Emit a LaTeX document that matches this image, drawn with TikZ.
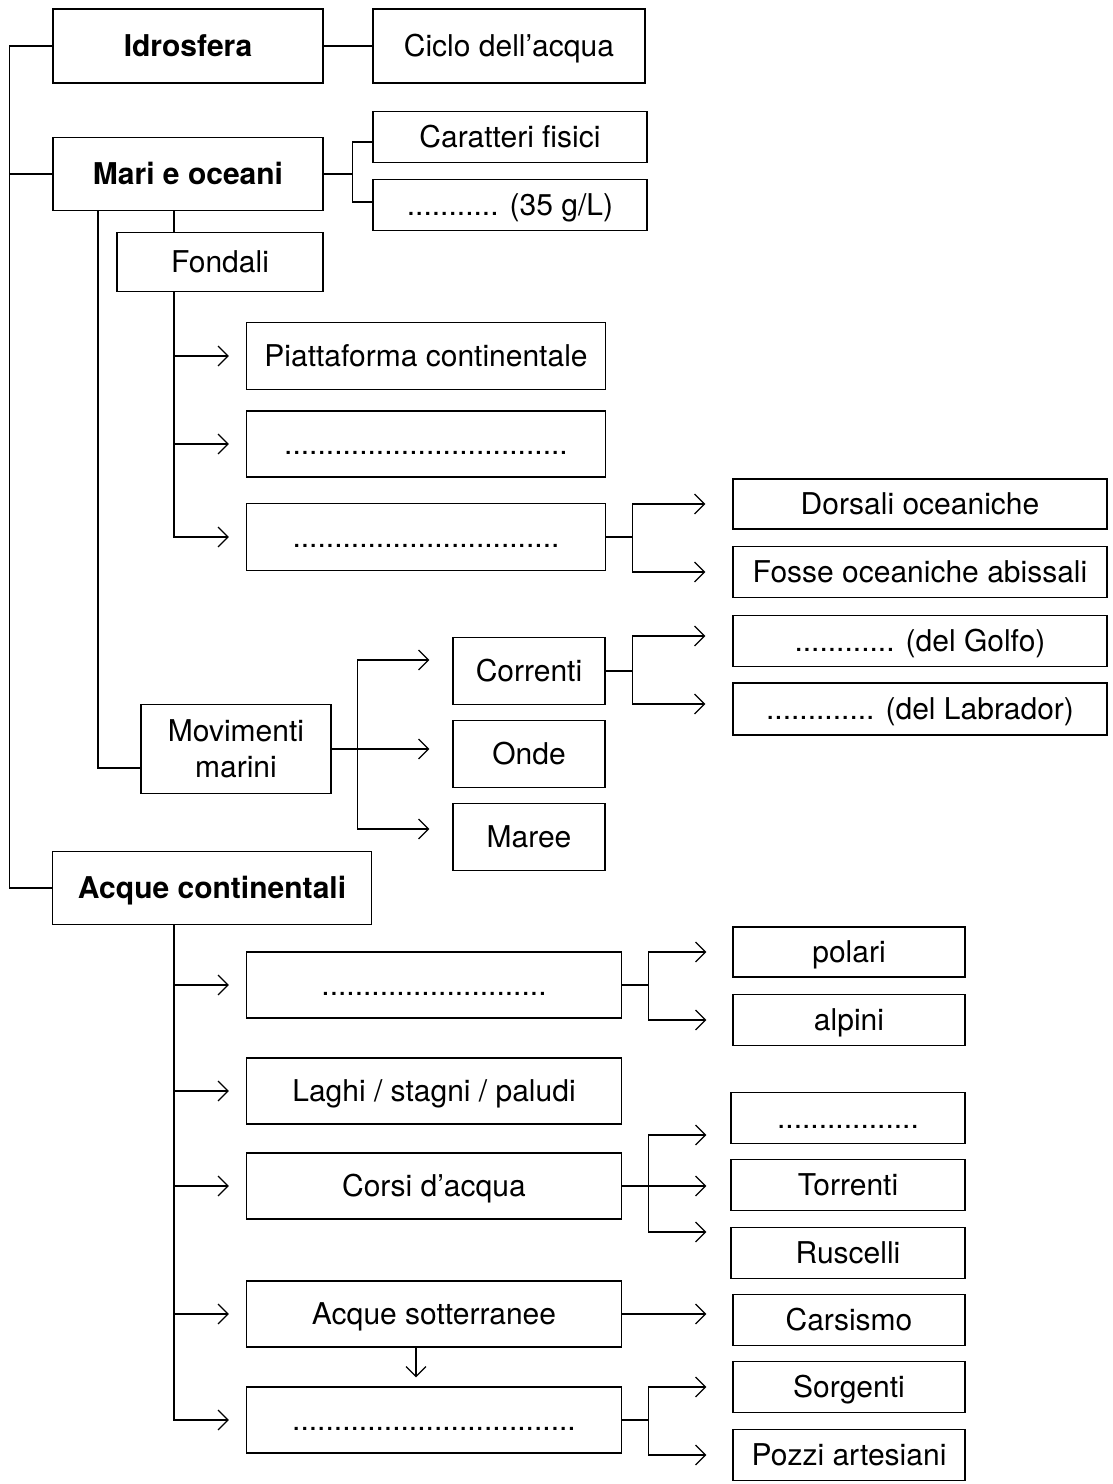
\documentclass[tikz,border=0pt]{standalone}
\usepackage{fontspec}
\setmainfont{TeX Gyre Heros}
\usepackage{tikz}
\usetikzlibrary{positioning,arrows.meta}

\tikzset{
  cell/.style={draw,inner sep=0pt,align=center,font=\fontsize{30}{36}\selectfont},
  box/.style 2 args={cell,minimum width=#1pt,minimum height=#2pt,text height=24pt,text depth=3pt},
  head/.style 2 args={box={#1}{#2},font=\fontsize{30}{36}\selectfont\bfseries},
}

\begin{document}
\begin{tikzpicture}[x=1pt,y=-1pt,line width=1.2pt,>={Straight Barb[length=10pt,width=20pt]}]
\useasboundingbox (0,0) rectangle (1113,1484);

% idrosfera e mari
\node[head={270}{74}] (idro) at (188,46) {Idrosfera};
\node[box={272}{74}] (ciclo) at (509,46) {Ciclo dell’acqua};
\node[head={270}{73}] (mari) at (188,174) {Mari e oceani};
\node[box={274}{51}] (carat) at (510,137) {Caratteri fisici};
\node[box={274}{51}] (sale) at (510,205) {........... (35 g/L)};
\node[box={206}{59}] (fond) at (220,262) {Fondali};
\node[box={359}{67}] (piatt) at (426,356) {Piattaforma continentale};
\node[box={359}{66}] (scarp) at (426,444) {..................................};
\node[box={359}{67}] (pian) at (426,537) {................................};
\node[box={374}{50}] (dors) at (920,504) {Dorsali oceaniche};
\node[box={374}{51}] (fosse) at (920,572) {Fosse oceaniche abissali};
\node[cell,minimum width=190pt,minimum height=89pt] (movi) at (236,749) {Movimenti\\marini};
\node[box={152}{67}] (corr) at (529,671) {Correnti};
\node[box={152}{67}] (onde) at (529,754) {Onde};
\node[box={152}{67}] (maree) at (529,837) {Maree};
\node[box={374}{51}] (golfo) at (920,641) {............ (del Golfo)};
\node[box={374}{52}] (labr) at (920,709) {............. (del Labrador)};

% acque continentali
\node[head={319}{73}] (acque) at (212,888) {Acque continentali};
\node[box={375}{66}] (ghiac) at (434,985) {...........................};
\node[box={375}{66}] (laghi) at (434,1091) {Laghi / stagni / paludi};
\node[box={375}{66}] (corsi) at (434,1186) {Corsi d’acqua};
\node[box={375}{66}] (sotter) at (434,1314) {Acque sotterranee};
\node[box={375}{66}] (falde) at (434,1420) {..................................};
\node[box={232}{50}] (polari) at (849,952) {polari};
\node[box={232}{51}] (alpini) at (849,1020) {alpini};
\node[box={234}{51}] (fiumi) at (848,1118) {.................};
\node[box={234}{51}] (torr) at (848,1185) {Torrenti};
\node[box={234}{51}] (rusc) at (848,1253) {Ruscelli};
\node[box={232}{51}] (cars) at (849,1320) {Carsismo};
\node[box={232}{51}] (sorg) at (849,1387) {Sorgenti};
\node[box={232}{51}] (pozzi) at (849,1455) {Pozzi artesiani};

% tronco principale
\draw (idro.west) -- ++(-43,0) coordinate (tr) |- (acque.west);
\draw (tr |- mari.west) -- (mari.west);
\draw (idro) -- (ciclo);
\draw (mari.east) -- ++(29,0) coordinate (mb);
\draw ([yshift=-5pt]carat.west) -| (mb) |- ([yshift=3pt]sale.west);

% fondali
\draw ([xshift=-14pt]mari.south) -- ([xshift=-14pt]mari.south |- fond.north);
\draw[->] ([xshift=-46pt]fond.south) coordinate (ft) |- ([xshift=-17pt]pian.west);
\foreach \n in {piatt,scarp}
  \draw[->] (ft |- \n.west) -- ([xshift=-17pt]\n.west);
\draw (pian.east) -- ++(26,0) coordinate (pb);
\draw[->] (pb) |- ([xshift=-27pt]dors.west);
\draw[->] (pb) |- ([xshift=-27pt]fosse.west);

% movimenti marini
\draw ([xshift=-90pt]mari.south) |- ([yshift=-19pt]movi.west);
\draw[->] (movi.east) -- ([xshift=-23pt]onde.west |- movi.east);
\draw (movi.east) -- ++(26,0) coordinate (mm);
\draw[->] (mm) |- ([xshift=-23pt,yshift=11pt]corr.west);
\draw[->] (mm) |- ([xshift=-23pt,yshift=8pt]maree.west);
\draw (corr.east) -- ++(27,0) coordinate (cb);
\draw[->] (cb) |- ([xshift=-27pt,yshift=5pt]golfo.west);
\draw[->] (cb) |- ([xshift=-27pt,yshift=5pt]labr.west);

% acque continentali
\draw[->] ([xshift=-38pt]acque.south) coordinate (at) |- ([xshift=-17pt]falde.west);
\foreach \n in {ghiac,laghi,corsi,sotter}
  \draw[->] (at |- \n.west) -- ([xshift=-17pt]\n.west);
\draw (ghiac.east) -- ++(26,0) coordinate (gb);
\draw[->] (gb) |- ([xshift=-26pt]polari.west);
\draw[->] (gb) |- ([xshift=-26pt]alpini.west);
\draw (corsi.east) -- ++(26,0) coordinate (kb);
\draw[->] (kb) |- ([xshift=-24pt,yshift=-17pt]fiumi.west);
\draw[->] (corsi.east) -- ([xshift=-24pt]torr.west |- corsi.east);
\draw[->] (kb) |- ([xshift=-24pt,yshift=21pt]rusc.west);
\draw[->] (sotter.east) -- ([xshift=-26pt]cars.west |- sotter.east);
\draw[->] ([xshift=-18pt]sotter.south) -- ([xshift=-18pt,yshift=9pt]falde.north);
\draw (falde.east) -- ++(26,0) coordinate (fb);
\draw[->] (fb) |- ([xshift=-26pt]sorg.west);
\draw[->] (fb) |- ([xshift=-26pt]pozzi.west);
\end{tikzpicture}
\end{document}
